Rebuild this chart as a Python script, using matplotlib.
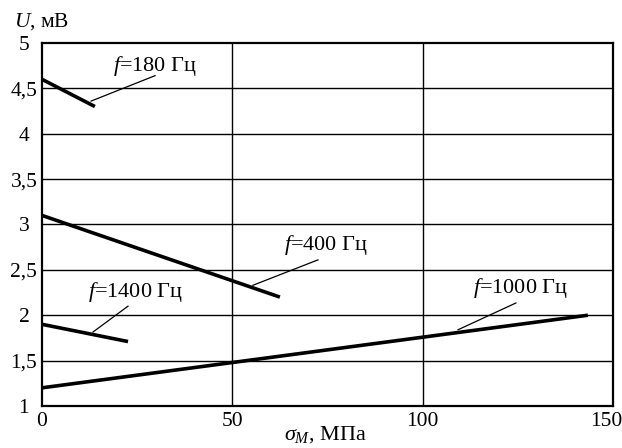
import matplotlib
matplotlib.use("Agg")
import matplotlib.pyplot as plt
import matplotlib.transforms as mtransforms
from matplotlib.ticker import FuncFormatter

plt.rcParams['font.family'] = ['Liberation Serif', 'DejaVu Serif']
plt.rcParams['mathtext.fontset'] = 'custom'
plt.rcParams['mathtext.rm'] = 'Liberation Serif'
plt.rcParams['mathtext.it'] = 'Liberation Serif:italic'

# data
labels = ["180", "400", "1400", "1000"]
x_180 = [0, 13.9]; y_180 = [4.6, 4.3]
x_400 = [0, 62.5]; y_400 = [3.1, 2.2]
x_1400 = [0, 22.6]; y_1400 = [1.9, 1.71]
x_1000 = [0, 143.4]; y_1000 = [1.2, 2.0]
xticks = [0, 50, 100, 150]
yticks = [1, 1.5, 2, 2.5, 3, 3.5, 4, 4.5, 5]

fig = plt.figure(figsize=(6.22, 4.48), dpi=100)
ax = fig.add_axes([0.0675, 0.0938, 0.918, 0.8102])
ax.set_xlim(0, 150)
ax.set_ylim(1, 5)

for xv in [50, 100]:
    ax.axvline(xv, color='black', lw=1.0, zorder=1)
for yv in yticks[1:-1]:
    ax.axhline(yv, color='black', lw=1.0, zorder=1)

for xs, ys in [(x_180, y_180), (x_400, y_400), (x_1400, y_1400), (x_1000, y_1000)]:
    ax.plot(xs, ys, color='black', lw=2.6, solid_capstyle='butt', zorder=3, clip_on=False)

ax.set_xticks(xticks)
ax.set_yticks(yticks)
ax.yaxis.set_major_formatter(FuncFormatter(lambda v, p: (f"{v:g}").replace('.', ',')))
ax.tick_params(length=0, labelsize=15.5)
ax.tick_params(axis='x', pad=4)
ax.tick_params(axis='y', pad=13)
for lbl in ax.get_yticklabels():
    lbl.set_horizontalalignment('center')
for s in ax.spines.values():
    s.set_linewidth(1.6)

fig.canvas.draw()
last = ax.get_xticklabels()[-1]
last.set_transform(last.get_transform() + mtransforms.ScaledTranslation(-7/100, 0, fig.dpi_scale_trans))

# annotations: label, text centre, leader start, leader end
ann = [
    ("180", (29.7, 4.75), (29.7, 4.64), (12.9, 4.36)),
    ("400", (74.6, 2.77), (72.5, 2.61), (55.4, 2.33)),
    ("1400", (24.7, 2.26), (22.6, 2.10), (13.4, 1.815)),
    ("1000", (125.8, 2.30), (124.5, 2.135), (109.3, 1.84)),
]
for lab, tpos, p0, p1 in ann:
    ax.text(tpos[0], tpos[1], "$f$=" + lab + " Гц", fontsize=16,
            ha='center', va='center', zorder=4)
    ax.plot([p0[0], p1[0]], [p0[1], p1[1]], color='black', lw=0.9, zorder=4)

fig.text(14/622, 1 - 22/448, "$U$, мВ", fontsize=15.5, ha='left', va='center')
fig.text(325/622, 1 - 435/448, r"$\sigma_M$, МПа", fontsize=16, ha='center', va='center')

fig.savefig("out.png", dpi=100)
